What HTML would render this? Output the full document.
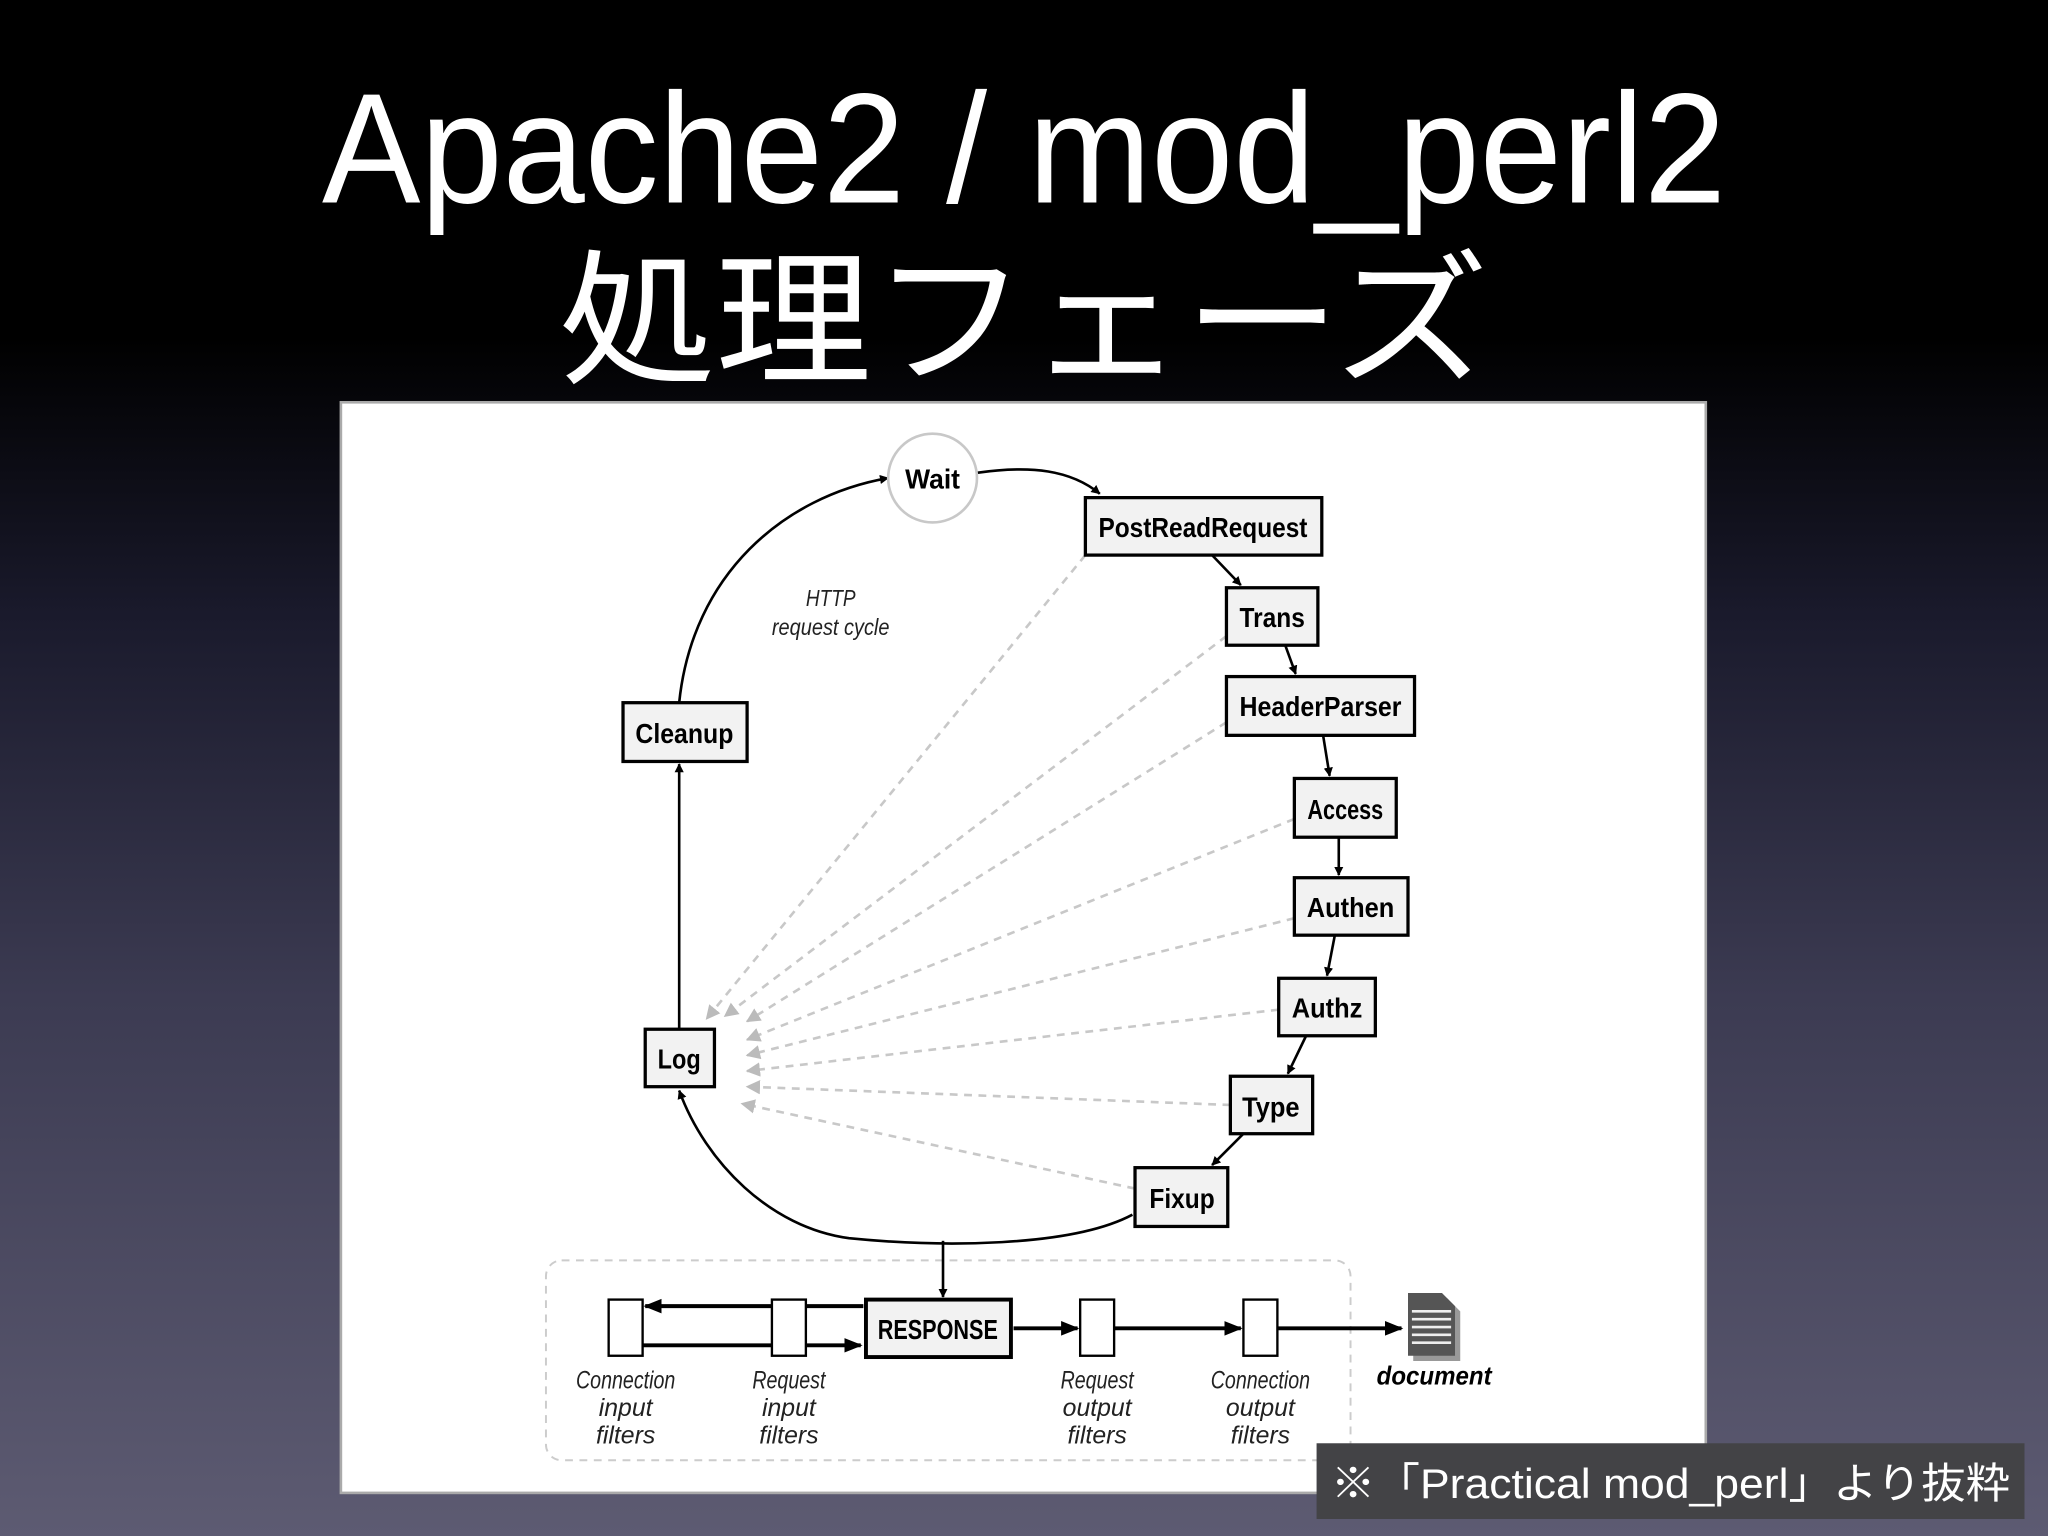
<!DOCTYPE html>
<html><head><meta charset="utf-8"><style>
html,body{margin:0;padding:0;width:2048px;height:1536px;overflow:hidden}
body{background:linear-gradient(180deg,#000 0%,#000 22%,#1a1a2c 40%,#3c3b52 65%,#5d5b72 100%)}
svg{display:block}
</style></head><body>
<svg width="2048" height="1536" viewBox="0 0 1568 1176" xmlns="http://www.w3.org/2000/svg">
<defs>
<marker id="a" viewBox="0 0 10 10" refX="9" refY="5" markerWidth="7" markerHeight="7" orient="auto-start-reverse" markerUnits="userSpaceOnUse"><path d="M0,0L10,5L0,10z" fill="#000"/></marker>
<marker id="b" viewBox="0 0 10 10" refX="9" refY="5" markerWidth="14" markerHeight="14" orient="auto" markerUnits="userSpaceOnUse"><path d="M0,1L10,5L0,9z" fill="#000"/></marker>
<marker id="g" viewBox="0 0 10 10" refX="9" refY="5" markerWidth="11" markerHeight="11" orient="auto" markerUnits="userSpaceOnUse"><path d="M0,0L10,5L0,10z" fill="#bbb"/></marker>
</defs>
<g font-family="Liberation Sans, sans-serif" fill="#fff">
<text x="784" y="155" font-size="120" text-anchor="middle" textLength="1075" lengthAdjust="spacingAndGlyphs">Apache2 / mod_perl2</text>
<text x="784" y="285" font-family="Liberation Sans, Noto Sans CJK JP, sans-serif" font-size="112" text-anchor="middle" textLength="712" lengthAdjust="spacingAndGlyphs">処理フェーズ</text>
</g>
<rect x="261" y="308" width="1045" height="835" fill="#fff" stroke="#aaa" stroke-width="2"/>
<!-- dotted lines -->
<g stroke="#c8c8c8" stroke-width="2" stroke-dasharray="6,5" fill="none" marker-end="url(#g)">
<line x1="831" y1="425" x2="541" y2="780"/>
<line x1="939" y1="487" x2="555" y2="778"/>
<line x1="939" y1="553" x2="572" y2="782"/>
<line x1="991" y1="627" x2="572" y2="796"/>
<line x1="991" y1="703" x2="572" y2="808"/>
<line x1="979" y1="773" x2="572" y2="820"/>
<line x1="942" y1="846" x2="572" y2="832"/>
<line x1="869" y1="910" x2="568" y2="845"/>
</g>
<!-- cycle arcs -->
<g stroke="#000" stroke-width="2" fill="none" marker-end="url(#a)">
<path d="M748,362 C790,356 820,360 842,378"/>
<path d="M520,538 C530,440 600,380 680,366"/>
<line x1="520" y1="788" x2="520" y2="585"/>
<path d="M867,930 C820,955 720,955 650,948 C590,940 540,890 520,835"/>
<line x1="928" y1="425" x2="950" y2="448"/>
<line x1="984" y1="494" x2="992" y2="516"/>
<line x1="1013" y1="563" x2="1018" y2="594"/>
<line x1="1025" y1="641" x2="1025" y2="670"/>
<line x1="1022" y1="716" x2="1016" y2="747"/>
<line x1="1000" y1="793" x2="986" y2="822"/>
<line x1="952" y1="868" x2="928" y2="892"/>
</g>
<circle cx="714" cy="366" r="34" fill="#fff" stroke="#c8c8c8" stroke-width="2"/>
<g fill="#f2f2f2" stroke="#000" stroke-width="2.5">
<rect x="831" y="381" width="181" height="44"/>
<rect x="939" y="450" width="70" height="44"/>
<rect x="939" y="518" width="144" height="45"/>
<rect x="991" y="596" width="78" height="45"/>
<rect x="991" y="672" width="87" height="44"/>
<rect x="979" y="749" width="74" height="44"/>
<rect x="942" y="824" width="63" height="44"/>
<rect x="869" y="894" width="71" height="45"/>
<rect x="477" y="538" width="95" height="45"/>
<rect x="494" y="788" width="53" height="44"/>
</g>
<g font-family="Liberation Sans, sans-serif" font-weight="bold" font-size="21" text-anchor="middle" fill="#000">
<text x="714" y="374" textLength="42" lengthAdjust="spacingAndGlyphs">Wait</text>
<text x="921" y="411" textLength="160" lengthAdjust="spacingAndGlyphs">PostReadRequest</text>
<text x="974" y="480" textLength="50" lengthAdjust="spacingAndGlyphs">Trans</text>
<text x="1011" y="548" textLength="124" lengthAdjust="spacingAndGlyphs">HeaderParser</text>
<text x="1030" y="627" textLength="58" lengthAdjust="spacingAndGlyphs">Access</text>
<text x="1034" y="702" textLength="67" lengthAdjust="spacingAndGlyphs">Authen</text>
<text x="1016" y="779" textLength="54" lengthAdjust="spacingAndGlyphs">Authz</text>
<text x="973" y="855" textLength="44" lengthAdjust="spacingAndGlyphs">Type</text>
<text x="905" y="925" textLength="50" lengthAdjust="spacingAndGlyphs">Fixup</text>
<text x="524" y="569" textLength="75" lengthAdjust="spacingAndGlyphs">Cleanup</text>
<text x="520" y="818" textLength="33" lengthAdjust="spacingAndGlyphs">Log</text>
</g>
<g font-family="Liberation Sans, sans-serif" font-style="italic" font-size="18" text-anchor="middle" fill="#222">
<text x="636" y="464" textLength="38" lengthAdjust="spacingAndGlyphs">HTTP</text>
<text x="636" y="486" textLength="90" lengthAdjust="spacingAndGlyphs">request cycle</text>
</g>
<!-- filter area -->
<rect x="418" y="965" width="616" height="153" rx="12" fill="none" stroke="#ccc" stroke-width="1.5" stroke-dasharray="6,5"/>
<line x1="722" y1="950" x2="722" y2="993" stroke="#000" stroke-width="2" marker-end="url(#a)"/>
<g stroke="#000" stroke-width="3" marker-end="url(#b)">
<line x1="661" y1="1000" x2="494" y2="1000"/>
<line x1="492" y1="1030" x2="659" y2="1030"/>
<line x1="776" y1="1017" x2="825" y2="1017"/>
<line x1="853" y1="1017" x2="950" y2="1017"/>
<line x1="978" y1="1017" x2="1073" y2="1017"/>
</g>
<g fill="#fff" stroke="#000" stroke-width="1.8">
<rect x="466" y="995" width="26" height="43"/>
<rect x="591" y="995" width="26" height="43"/>
<rect x="827" y="995" width="26" height="43"/>
<rect x="952" y="995" width="26" height="43"/>
</g>
<rect x="663" y="995" width="111" height="44" fill="#f2f2f2" stroke="#000" stroke-width="3"/>
<text x="718" y="1025" font-family="Liberation Sans, sans-serif" font-weight="bold" font-size="21" text-anchor="middle" textLength="92" lengthAdjust="spacingAndGlyphs">RESPONSE</text>
<!-- document icon -->
<path d="M1082,994 L1108,994 L1118,1004 L1118,1042 L1082,1042 Z" fill="#999"/>
<path d="M1078,990 L1104,990 L1114,1000 L1114,1038 L1078,1038 Z" fill="#555"/>
<g stroke="#eee" stroke-width="2"><line x1="1081" y1="1004" x2="1111" y2="1004"/><line x1="1081" y1="1010" x2="1111" y2="1010"/><line x1="1081" y1="1016" x2="1111" y2="1016"/><line x1="1081" y1="1022" x2="1111" y2="1022"/><line x1="1081" y1="1028" x2="1111" y2="1028"/></g>
<g font-family="Liberation Sans, sans-serif" font-style="italic" font-size="19" text-anchor="middle" fill="#222">
<text x="479" y="1063" textLength="76" lengthAdjust="spacingAndGlyphs">Connection</text><text x="479" y="1084">input</text><text x="479" y="1105">filters</text>
<text x="604" y="1063" textLength="56" lengthAdjust="spacingAndGlyphs">Request</text><text x="604" y="1084">input</text><text x="604" y="1105">filters</text>
<text x="840" y="1063" textLength="56" lengthAdjust="spacingAndGlyphs">Request</text><text x="840" y="1084">output</text><text x="840" y="1105">filters</text>
<text x="965" y="1063" textLength="76" lengthAdjust="spacingAndGlyphs">Connection</text><text x="965" y="1084">output</text><text x="965" y="1105">filters</text>
<text x="1098" y="1060" font-weight="bold" font-size="20" fill="#000" textLength="88" lengthAdjust="spacingAndGlyphs">document</text>
</g>
<rect x="1008" y="1105" width="542" height="58" fill="#434346"/>
<text x="1279" y="1147" font-family="Liberation Sans, Noto Sans CJK JP, sans-serif" font-size="32" fill="#fff" text-anchor="middle" textLength="520" lengthAdjust="spacingAndGlyphs">※「Practical mod_perl」より抜粋</text>
</svg>
</body></html>
